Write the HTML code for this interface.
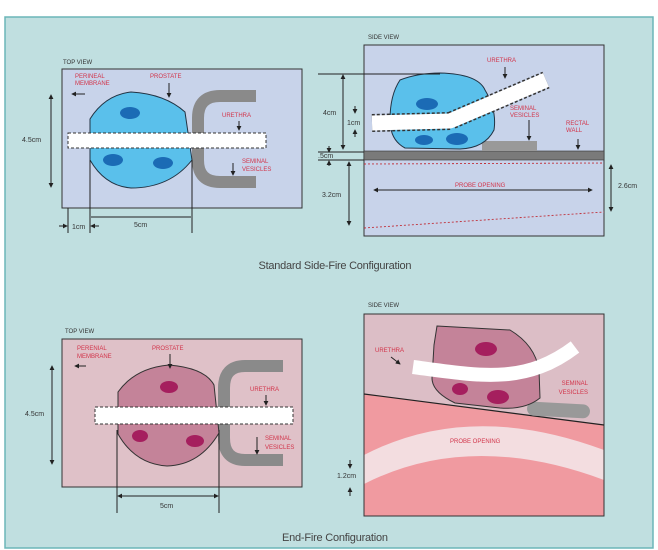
<!DOCTYPE html>
<html><head><meta charset="utf-8"><style>
html,body{margin:0;padding:0;background:#fff;width:658px;height:550px;overflow:hidden}
svg{display:block}
text{font-family:"Liberation Sans",sans-serif}
.l{font-size:6px;fill:#d2344a}
.k{font-size:6px;fill:#333}
.d{font-size:7px;fill:#333}
.t{font-size:11px;fill:#444}
</style></head><body>
<svg width="658" height="550" viewBox="0 0 658 550">
<defs>
<marker id="a" viewBox="0 0 6 6" refX="5" refY="3" markerWidth="5" markerHeight="5" orient="auto-start-reverse"><path d="M0,0L6,3L0,6z" fill="#222"/></marker>
</defs>
<rect x="5" y="17" width="648" height="531" fill="#c0dfe0" stroke="#6bb6b8" stroke-width="1.5"/>

<!-- TOP LEFT -->
<text x="63" y="64" class="k">TOP VIEW</text>
<rect x="62" y="69" width="240" height="139" fill="#c8d3ea" stroke="#333" stroke-width="1"/>
<path d="M256,96 H220 Q198,96 198,118 V160 Q198,182 220,182 H256" fill="none" stroke="#8a8a8a" stroke-width="12"/>
<path d="M90,119 Q105,95 131,92 Q165,94 185,112 L192,160 Q170,188 131,188 Q105,186 90,160 Z" fill="#5ac0eb" stroke="#234" stroke-width="1"/>
<ellipse cx="130" cy="113" rx="10" ry="6" fill="#1b6bb5"/>
<ellipse cx="113" cy="160" rx="10" ry="6" fill="#1b6bb5"/>
<ellipse cx="163" cy="163" rx="10" ry="6" fill="#1b6bb5"/>
<rect x="68" y="133" width="198" height="15" fill="#fff" stroke="#333" stroke-dasharray="3,2"/>
<text x="75" y="78" class="l">PERINEAL</text><text x="75" y="85" class="l">MEMBRANE</text>
<line x1="85" y1="94" x2="72" y2="94" stroke="#222" marker-end="url(#a)"/>
<text x="150" y="78" class="l">PROSTATE</text>
<line x1="169" y1="83" x2="169" y2="97" stroke="#222" marker-end="url(#a)"/>
<text x="222" y="117" class="l">URETHRA</text>
<line x1="239" y1="121" x2="239" y2="130" stroke="#222" marker-end="url(#a)"/>
<text x="242" y="163" class="l">SEMINAL</text><text x="242" y="171" class="l">VESICLES</text>
<line x1="233" y1="163" x2="233" y2="175" stroke="#222" marker-end="url(#a)"/>
<line x1="51" y1="95" x2="51" y2="187" stroke="#222" marker-start="url(#a)" marker-end="url(#a)"/>
<text x="22" y="142" class="d">4.5cm</text>
<line x1="68" y1="208" x2="68" y2="233" stroke="#222"/>
<line x1="90" y1="160" x2="90" y2="233" stroke="#222"/>
<line x1="192" y1="160" x2="192" y2="233" stroke="#222"/>
<line x1="59" y1="226" x2="67" y2="226" stroke="#222" marker-end="url(#a)"/>
<line x1="99" y1="226" x2="91" y2="226" stroke="#222" marker-end="url(#a)"/>
<text x="72" y="229" class="d">1cm</text>
<line x1="91" y1="217" x2="191" y2="217" stroke="#222"/>
<text x="134" y="227" class="d">5cm</text>

<!-- TOP RIGHT -->
<text x="368" y="39" class="k">SIDE VIEW</text>
<rect x="364" y="45" width="240" height="191" fill="#c8d3ea" stroke="#333"/>
<rect x="364" y="151" width="240" height="9" fill="#7a7a7a" stroke="#333" stroke-width="0.6"/>
<rect x="482" y="141" width="55" height="10" fill="#999"/>
<path d="M400,80 Q418,73 440,73 Q478,74 485,90 Q497,110 494,130 Q485,148 460,149 L405,148 Q390,140 390,120 Q390,95 400,80 Z" fill="#5ac0eb" stroke="#234"/>
<ellipse cx="427" cy="104" rx="11" ry="6" fill="#1b6bb5"/>
<ellipse cx="424" cy="140" rx="9" ry="5" fill="#1b6bb5"/>
<ellipse cx="457" cy="139" rx="11" ry="6" fill="#1b6bb5"/>
<path d="M372,123 L450,121 L546,80" fill="none" stroke="#333" stroke-width="18" stroke-dasharray="3,2" stroke-linejoin="round"/>
<path d="M372,123 L450,121 L546,80" fill="none" stroke="#fff" stroke-width="15" stroke-linejoin="round"/>
<line x1="364" y1="164" x2="604" y2="163" stroke="#c0303a" stroke-dasharray="2,2" stroke-width="0.9"/>
<line x1="364" y1="228" x2="604" y2="212" stroke="#c0303a" stroke-dasharray="2,2" stroke-width="0.9"/>
<line x1="374" y1="190" x2="592" y2="190" stroke="#222" marker-start="url(#a)" marker-end="url(#a)"/>
<text x="455" y="187" class="l">PROBE OPENING</text>
<text x="487" y="62" class="l">URETHRA</text>
<line x1="505" y1="67" x2="505" y2="78" stroke="#222" marker-end="url(#a)"/>
<text x="510" y="110" class="l">SEMINAL</text><text x="510" y="117" class="l">VESICLES</text>
<line x1="529" y1="120" x2="529" y2="140" stroke="#222" marker-end="url(#a)"/>
<text x="566" y="125" class="l">RECTAL</text><text x="566" y="132" class="l">WALL</text>
<line x1="578" y1="139" x2="578" y2="149" stroke="#222" marker-end="url(#a)"/>
<line x1="611" y1="165" x2="611" y2="211" stroke="#222" marker-start="url(#a)" marker-end="url(#a)"/>
<text x="618" y="188" class="d">2.6cm</text>
<line x1="318" y1="74" x2="440" y2="74" stroke="#222"/>
<line x1="343" y1="75" x2="343" y2="149" stroke="#222" marker-start="url(#a)" marker-end="url(#a)"/>
<text x="323" y="115" class="d">4cm</text>
<line x1="355" y1="106" x2="355" y2="113" stroke="#222" marker-end="url(#a)"/>
<text x="347" y="125" class="d">1cm</text>
<line x1="355" y1="137" x2="355" y2="130" stroke="#222" marker-end="url(#a)"/>
<line x1="329" y1="146" x2="329" y2="152" stroke="#222" marker-end="url(#a)"/>
<line x1="318" y1="152" x2="364" y2="152" stroke="#222"/>
<line x1="318" y1="160" x2="364" y2="160" stroke="#222"/>
<text x="318" y="158" class="d">.5cm</text>
<line x1="329" y1="166" x2="329" y2="161" stroke="#222" marker-end="url(#a)"/>
<line x1="349" y1="162" x2="349" y2="225" stroke="#222" marker-start="url(#a)" marker-end="url(#a)"/>
<text x="322" y="197" class="d">3.2cm</text>

<text x="335" y="269" class="t" text-anchor="middle" textLength="153">Standard Side-Fire Configuration</text>

<!-- BOTTOM LEFT -->
<text x="65" y="333" class="k">TOP VIEW</text>
<rect x="62" y="339" width="240" height="148" fill="#dfc1c8" stroke="#333"/>
<path d="M283,366 H245 Q224,366 224,388 V438 Q224,460 245,460 H283" fill="none" stroke="#8a8a8a" stroke-width="12"/>
<path d="M118,392 Q135,368 169,365 Q205,368 214,385 L219,433 Q200,465 167,466 Q135,464 118,434 Z" fill="#c48399" stroke="#333"/>
<ellipse cx="169" cy="387" rx="9" ry="6" fill="#a51f5e"/>
<ellipse cx="140" cy="436" rx="8" ry="6" fill="#a51f5e"/>
<ellipse cx="195" cy="441" rx="9" ry="6" fill="#a51f5e"/>
<rect x="95" y="407" width="198" height="17" fill="#fff" stroke="#333" stroke-dasharray="3,2"/>
<text x="77" y="350" class="l">PERENIAL</text><text x="77" y="358" class="l">MEMBRANE</text>
<line x1="86" y1="366" x2="75" y2="366" stroke="#222" marker-end="url(#a)"/>
<text x="152" y="350" class="l">PROSTATE</text>
<line x1="170" y1="354" x2="170" y2="368" stroke="#222" marker-end="url(#a)"/>
<text x="250" y="391" class="l">URETHRA</text>
<line x1="266" y1="395" x2="266" y2="405" stroke="#222" marker-end="url(#a)"/>
<text x="265" y="440" class="l">SEMINAL</text><text x="265" y="449" class="l">VESICLES</text>
<line x1="257" y1="437" x2="257" y2="454" stroke="#222" marker-end="url(#a)"/>
<line x1="52" y1="366" x2="52" y2="464" stroke="#222" marker-start="url(#a)" marker-end="url(#a)"/>
<text x="25" y="416" class="d">4.5cm</text>
<line x1="117" y1="430" x2="117" y2="513" stroke="#222"/>
<line x1="219" y1="430" x2="219" y2="513" stroke="#222"/>
<line x1="118" y1="496" x2="218" y2="496" stroke="#222" marker-start="url(#a)" marker-end="url(#a)"/>
<text x="160" y="508" class="d">5cm</text>

<!-- BOTTOM RIGHT -->
<text x="368" y="307" class="k">SIDE VIEW</text>
<rect x="364" y="314" width="240" height="202" fill="#dcbec6"/>
<path d="M364,394 L604,425 V516 H364 Z" fill="#f09aa0"/>
<path d="M364,455 Q470,400 604,450 V480 Q470,430 364,484 Z" fill="#f3dde0"/>
<rect x="364" y="314" width="240" height="202" fill="none" stroke="#333"/>
<line x1="364" y1="394" x2="604" y2="425" stroke="#222" stroke-width="1.2"/>
<rect x="527" y="403" width="63" height="14" rx="7" fill="#999" transform="rotate(3 558 410)"/>
<path d="M437,326 L510,330 Q535,345 539,370 L540,398 Q525,410 500,408 L455,403 Q432,392 432,378 L434,345 Z" fill="#c48399" stroke="#333"/>
<ellipse cx="486" cy="349" rx="11" ry="7" fill="#a51f5e"/>
<ellipse cx="460" cy="389" rx="8" ry="6" fill="#a51f5e"/>
<ellipse cx="498" cy="397" rx="11" ry="7" fill="#a51f5e"/>
<path d="M413,367 C480,376 525,385 575,347" fill="none" stroke="#fff" stroke-width="14"/>
<text x="375" y="352" class="l">URETHRA</text>
<line x1="391" y1="357" x2="400" y2="364" stroke="#222" marker-end="url(#a)"/>
<text x="588" y="385" class="l" text-anchor="end">SEMINAL</text><text x="588" y="394" class="l" text-anchor="end">VESICLES</text>
<text x="450" y="443" class="l">PROBE OPENING</text>
<line x1="350" y1="460" x2="350" y2="468" stroke="#222" marker-end="url(#a)"/>
<text x="337" y="478" class="d">1.2cm</text>
<line x1="350" y1="496" x2="350" y2="488" stroke="#222" marker-end="url(#a)"/>

<text x="335" y="541" class="t" text-anchor="middle" textLength="106">End-Fire Configuration</text>
</svg>
</body></html>
